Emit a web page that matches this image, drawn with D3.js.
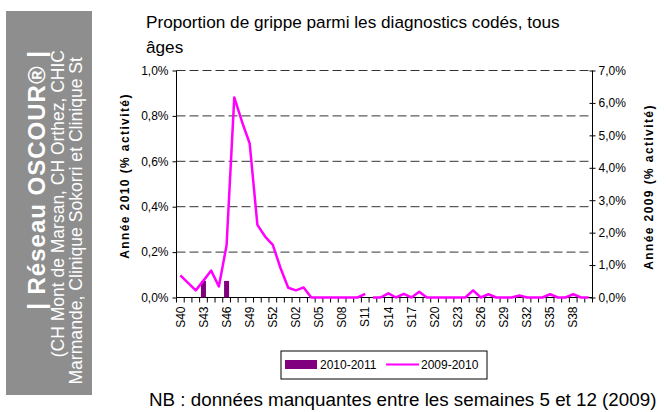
<!DOCTYPE html>
<html>
<head>
<meta charset="utf-8">
<script src="https://cdn.jsdelivr.net/npm/d3@7/dist/d3.min.js"></script>
<style>
  body { margin: 0; background: #fff; }
  svg { display: block; font-family: "Liberation Sans", Arial, sans-serif; }
</style>
</head>
<body>
<svg id="chart" width="666" height="412"></svg>
<script>
// Weeks of the season (2009 had 53 weeks)
const weeks = [
  "S40", "S41", "S42", "S43", "S44", "S45", "S46", "S47", "S48", "S49",
  "S50", "S51", "S52", "S53", "S01", "S02", "S03", "S04", "S05", "S06",
  "S07", "S08", "S09", "S10", "S11", "S12", "S13", "S14", "S15", "S16",
  "S17", "S18", "S19", "S20", "S21", "S22", "S23", "S24", "S25", "S26",
  "S27", "S28", "S29", "S30", "S31", "S32", "S33", "S34", "S35", "S36",
  "S37", "S38", "S39", "S40b"
];
const weekLabels = [
  "S40", "S43", "S46", "S49", "S52", "S02", "S05", "S08", "S11",
  "S14", "S17", "S20", "S23", "S26", "S29", "S32", "S35", "S38"
];

// 2010-2011 season, % of coded diagnoses (left axis)
const weeks2010 = ["S40", "S41", "S42", "S43", "S44", "S45", "S46"];
const values2010 = [0, 0, 0, 0.073, 0, 0, 0.073];

// 2009-2010 season, % of coded diagnoses (right axis)
const values2009 = [
  0.68, 0.45, 0.22, 0.52, 0.83, 0.34, 1.61, 6.17, 5.42, 4.75,
  2.24, 1.88, 1.62, 0.91, 0.30, 0.22, 0.31, 0, 0, 0,
  0, 0, 0, 0, 0.11, 0, 0, 0.13, 0, 0.11,
  0, 0.18, 0, 0, 0, 0, 0, 0, 0.22, 0,
  0.10, 0, 0, 0, 0.06, 0, 0, 0, 0.10, 0,
  0, 0.10, 0, 0
];
// the 2009-2010 line is broken between these two weeks
const lineBreak = ["S11", "S12"];

const leftTicks = [0, 0.2, 0.4, 0.6, 0.8, 1.0];
const rightTicks = [0, 1, 2, 3, 4, 5, 6, 7];

const FONT = "'Liberation Sans', Arial, sans-serif";
const svg = d3.select("#chart");
const plot = { left: 176.5, right: 592.5, top: 70.5, bottom: 297.5 };
const fmt = d => d.toFixed(1).replace(".", ",") + "%";

// Side banner
svg.append("rect")
  .attr("x", 6).attr("y", 11)
  .attr("width", 86).attr("height", 384)
  .attr("fill", "#8e8e8e");

const banner = [
  { text: "| Réseau OSCOUR® |", x: 45, y: 50, size: 24, weight: "bold", spacing: 1 },
  { text: "(CH Mont de Marsan, CH Orthez, CHIC", x: 64, y: 50, size: 17.5, weight: "normal", spacing: 0 },
  { text: "Marmande, Clinique Sokorri et Clinique St", x: 82, y: 57, size: 17.6, weight: "normal", spacing: 0 }
];
svg.append("g")
  .selectAll("text")
  .data(banner)
  .enter()
  .append("text")
  .attr("transform", d => `translate(${d.x},${d.y}) rotate(-90)`)
  .attr("text-anchor", "end")
  .attr("fill", "#fff")
  .attr("font-size", d => d.size)
  .attr("font-weight", d => d.weight)
  .attr("letter-spacing", d => d.spacing)
  .text(d => d.text);

// Title
const title = svg.append("text")
  .attr("font-size", 17.2)
  .attr("fill", "#000");
title.append("tspan").attr("x", 146).attr("y", 28)
  .text("Proportion de grippe parmi les diagnostics codés, tous");
title.append("tspan").attr("x", 146).attr("y", 53).text("âges");

// Scales
const x = d3.scaleBand().domain(weeks).range([plot.left, plot.right]);
const xBar = d3.scaleBand().domain(weeks).range([plot.left, plot.right]).paddingInner(0.35).paddingOuter(0.175);
const yLeft = d3.scaleLinear().domain([0, 1]).range([plot.bottom, plot.top]);
const yRight = d3.scaleLinear().domain([0, 7]).range([plot.bottom, plot.top]);

// Dashed gridlines on left ticks
svg.append("g")
  .selectAll("line")
  .data(leftTicks.filter(d => d > 0))
  .enter()
  .append("line")
  .attr("x1", plot.left).attr("x2", plot.right)
  .attr("y1", d => yLeft(d)).attr("y2", d => yLeft(d))
  .attr("stroke", "#333")
  .attr("stroke-dasharray", "9,4");

// Left axis
const leftAxis = svg.append("g")
  .attr("transform", `translate(${plot.left},0)`)
  .call(d3.axisLeft(yLeft).tickValues(leftTicks).tickFormat(fmt).tickSize(4).tickPadding(4));

// Right axis
const rightAxis = svg.append("g")
  .attr("transform", `translate(${plot.right},0)`)
  .call(d3.axisRight(yRight).tickValues(rightTicks).tickFormat(fmt).tickSize(3).tickPadding(3));
rightAxis.selectAll(".tick line").attr("x1", -3);

// Bottom axis
const bottomAxis = svg.append("g")
  .attr("transform", `translate(0,${plot.bottom})`)
  .call(d3.axisBottom(x).tickSize(0).tickFormat(d => weekLabels.includes(d) ? d : ""));
bottomAxis.selectAll(".tick text")
  .attr("transform", "rotate(-90)")
  .attr("text-anchor", "end")
  .attr("x", -9)
  .attr("y", 0)
  .attr("dy", "0.35em");
bottomAxis.append("g")
  .selectAll("line")
  .data(weeks.concat(["end"]))
  .enter()
  .append("line")
  .attr("x1", (d, i) => plot.left + i * x.step())
  .attr("x2", (d, i) => plot.left + i * x.step())
  .attr("y1", 0).attr("y2", 5)
  .attr("stroke", "#000");

[leftAxis, rightAxis, bottomAxis].forEach(a => {
  a.attr("font-family", FONT).attr("font-size", 12);
  a.selectAll("text").attr("fill", "#000");
  a.selectAll("line, path").attr("stroke", "#000");
});
leftAxis.select(".domain").attr("d", `M0,${plot.top}V${plot.bottom}`);
rightAxis.select(".domain").attr("d", `M0,${plot.top}V${plot.bottom}`);
bottomAxis.select(".domain").attr("d", `M${plot.left},0H${plot.right}`);

// Axis titles
const axisTitles = [
  { text: "Année 2010 (% activité)", x: 129, y: 176 },
  { text: "Année 2009 (% activité)", x: 653, y: 187 }
];
svg.append("g")
  .selectAll("text")
  .data(axisTitles)
  .enter()
  .append("text")
  .attr("transform", d => `translate(${d.x},${d.y}) rotate(-90)`)
  .attr("text-anchor", "middle")
  .attr("font-size", 12)
  .attr("font-weight", "bold")
  .attr("letter-spacing", 1.4)
  .text(d => d.text);

// Bars 2010-2011
svg.append("g")
  .selectAll("rect")
  .data(weeks2010.map((w, i) => ({ w, v: values2010[i] })))
  .enter()
  .append("rect")
  .attr("x", d => xBar(d.w))
  .attr("width", xBar.bandwidth())
  .attr("y", d => yLeft(d.v))
  .attr("height", d => plot.bottom - yLeft(d.v))
  .attr("fill", "#800080");

// Line 2009-2010, split at the break
const points = weeks.map((w, i) => ({ w, v: values2009[i] }));
const cut = weeks.indexOf(lineBreak[1]);
const segments = [points.slice(0, cut), points.slice(cut)];
const line = d3.line()
  .x(d => x(d.w) + x.bandwidth() / 2)
  .y(d => yRight(d.v));
svg.append("g")
  .selectAll("path")
  .data(segments)
  .enter()
  .append("path")
  .attr("d", line)
  .attr("fill", "none")
  .attr("stroke", "#ff00ff")
  .attr("stroke-width", 2.5)
  .attr("stroke-linejoin", "round");

// Legend
const legend = svg.append("g");
legend.append("rect")
  .attr("x", 281).attr("y", 351)
  .attr("width", 206).attr("height", 28)
  .attr("fill", "#fff").attr("stroke", "#000");
legend.append("rect")
  .attr("x", 285).attr("y", 360)
  .attr("width", 32).attr("height", 9)
  .attr("fill", "#800080");
legend.append("text")
  .attr("x", 320).attr("y", 369)
  .attr("font-size", 12)
  .text("2010-2011");
legend.append("line")
  .attr("x1", 386).attr("x2", 419)
  .attr("y1", 364.5).attr("y2", 364.5)
  .attr("stroke", "#ff00ff").attr("stroke-width", 2);
legend.append("text")
  .attr("x", 421).attr("y", 369)
  .attr("font-size", 12)
  .text("2009-2010");

// Footnote
svg.append("text")
  .attr("x", 149).attr("y", 406)
  .attr("font-size", 18.8)
  .text("NB : données manquantes entre les semaines 5 et 12 (2009)");
</script>
</body>
</html>
